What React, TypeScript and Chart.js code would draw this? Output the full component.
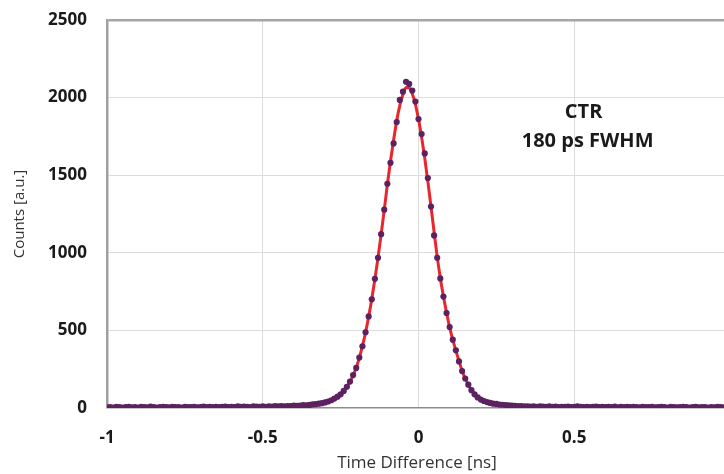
import { useEffect, useRef } from "react";
import { Chart, registerables } from "chart.js";

Chart.register(...registerables);

// Bin centres [ns]
const timeNs = [
  -1.0, -0.99, -0.98, -0.97, -0.96, -0.95, -0.94, -0.93, -0.92, -0.91,
  -0.9, -0.89, -0.88, -0.87, -0.86, -0.85, -0.84, -0.83, -0.82, -0.81,
  -0.8, -0.79, -0.78, -0.77, -0.76, -0.75, -0.74, -0.73, -0.72, -0.71,
  -0.7, -0.69, -0.68, -0.67, -0.66, -0.65, -0.64, -0.63, -0.62, -0.61,
  -0.6, -0.59, -0.58, -0.57, -0.56, -0.55, -0.54, -0.53, -0.52, -0.51,
  -0.5, -0.49, -0.48, -0.47, -0.46, -0.45, -0.44, -0.43, -0.42, -0.41,
  -0.4, -0.39, -0.38, -0.37, -0.36, -0.35, -0.34, -0.33, -0.32, -0.31,
  -0.3, -0.29, -0.28, -0.27, -0.26, -0.25, -0.24, -0.23, -0.22, -0.21,
  -0.2, -0.19, -0.18, -0.17, -0.16, -0.15, -0.14, -0.13, -0.12, -0.11,
  -0.1, -0.09, -0.08, -0.07, -0.06, -0.05, -0.04, -0.03, -0.02, -0.01,
  0.0, 0.01, 0.02, 0.03, 0.04, 0.05, 0.06, 0.07, 0.08, 0.09,
  0.1, 0.11, 0.12, 0.13, 0.14, 0.15, 0.16, 0.17, 0.18, 0.19,
  0.2, 0.21, 0.22, 0.23, 0.24, 0.25, 0.26, 0.27, 0.28, 0.29,
  0.3, 0.31, 0.32, 0.33, 0.34, 0.35, 0.36, 0.37, 0.38, 0.39,
  0.4, 0.41, 0.42, 0.43, 0.44, 0.45, 0.46, 0.47, 0.48, 0.49,
  0.5, 0.51, 0.52, 0.53, 0.54, 0.55, 0.56, 0.57, 0.58, 0.59,
  0.6, 0.61, 0.62, 0.63, 0.64, 0.65, 0.66, 0.67, 0.68, 0.69,
  0.7, 0.71, 0.72, 0.73, 0.74, 0.75, 0.76, 0.77, 0.78, 0.79,
  0.8, 0.81, 0.82, 0.83, 0.84, 0.85, 0.86, 0.87, 0.88, 0.89,
  0.9, 0.91, 0.92, 0.93, 0.94, 0.95, 0.96, 0.97, 0.98,
];

// Measured counts per bin
const counts = [
  4, 6, 3, 7, 5, 2, 6, 8, 4, 5,
  3, 7, 6, 4, 9, 5, 3, 6, 8, 5,
  4, 7, 5, 6, 3, 8, 6, 5, 7, 4,
  6, 9, 5, 7, 6, 8, 5, 7, 9, 6,
  8, 6, 10, 7, 9, 8, 6, 10, 9, 7,
  11, 8, 10, 9, 12, 10, 12, 11, 13, 12,
  15, 14, 16, 18, 17, 20, 23, 25, 28, 31,
  36, 42, 50, 61, 73, 88, 110, 137, 170, 212,
  258, 325, 398, 488, 590, 700, 832, 968, 1120, 1278,
  1445, 1580, 1705, 1842, 1985, 2038, 2102, 2088, 2045, 1975,
  1862, 1765, 1640, 1482, 1298, 1112, 968, 835, 718, 612,
  522, 440, 372, 300, 238, 190, 150, 115, 88, 68,
  54, 45, 38, 33, 28, 26, 22, 21, 18, 17,
  15, 14, 13, 12, 10, 11, 9, 10, 8, 11,
  9, 7, 10, 8, 9, 6, 8, 7, 9, 6,
  8, 10, 7, 5, 8, 6, 7, 9, 6, 8,
  5, 7, 6, 9, 4, 7, 6, 8, 5, 7,
  6, 4, 8, 6, 5, 7, 4, 6, 8, 5,
  3, 7, 6, 4, 5, 8, 6, 3, 5, 7,
  4, 6, 5, 3, 6, 4, 7, 5, 4,
];

// Fit curve, bins -0.45 .. 0.35 ns
const fitTimeNs = timeNs.slice(55, 136);
const fitCounts = [
  8, 9, 10, 11, 12, 13, 14, 15, 16, 18,
  20, 22, 25, 28, 32, 36, 42, 50, 60, 73,
  89, 110, 137, 170, 210, 260, 323, 400, 486, 589,
  702, 830, 969, 1118, 1275, 1440, 1590, 1725, 1850, 1950,
  2020, 2065, 2062, 2025, 1958, 1860, 1745, 1610, 1460, 1300,
  1135, 975, 838, 720, 615, 520, 440, 370, 302, 240,
  190, 150, 115, 88, 68, 54, 45, 38, 33, 29,
  25, 22, 20, 18, 16, 15, 14, 13, 12, 11,
  10,
];

const xTicks = [-1, -0.5, 0, 0.5];
const yTicks = [0, 500, 1000, 1500, 2000, 2500];
const noteLines = ["CTR", "180 ps FWHM"];
const xTitle = "Time Difference [ns]";
const yTitle = "Counts [a.u.]";

const FONT = "'Open Sans', 'Noto Sans', sans-serif";

export default function App() {
  const ref = useRef<HTMLCanvasElement | null>(null);

  useEffect(() => {
    const canvas = ref.current;
    if (!canvas) return;

    const notePlugin = {
      id: "note",
      afterDatasetsDraw(chart: any) {
        const { ctx, scales } = chart;
        const cx = scales.x.getPixelForValue(0.53);
        const cy = scales.y.getPixelForValue(1907);
        ctx.save();
        ctx.fillStyle = "#1a1a1a";
        ctx.font = `bold 20px ${FONT}`;
        ctx.textAlign = "center";
        ctx.textBaseline = "middle";
        noteLines.forEach((t, i) => {
          ctx.fillText(t, cx + (i === 0 ? 0 : 4), cy + i * 29);
        });
        ctx.restore();
      },
    };

    const chart = new Chart(canvas, {
      type: "scatter",
      data: {
        datasets: [
          {
            label: "Data",
            data: timeNs.map((x, i) => ({ x, y: counts[i] })),
            showLine: false,
            pointRadius: 3.1,
            pointHoverRadius: 3.1,
            pointBackgroundColor: "#5c2160",
            pointBorderColor: "#5c2160",
            pointBorderWidth: 0,
            order: 0,
          },
          {
            label: "Fit",
            data: fitTimeNs.map((x, i) => ({ x, y: fitCounts[i] })),
            showLine: true,
            borderColor: "#e8262b",
            borderWidth: 3,
            pointRadius: 0,
            cubicInterpolationMode: "monotone",
            order: 1,
          },
        ],
      },
      options: {
        responsive: false,
        animation: false,
        devicePixelRatio: 1,
        layout: { padding: { top: 20, right: 0, left: 0, bottom: 0 } },
        plugins: {
          legend: { display: false },
          tooltip: { enabled: false },
        },
        scales: {
          x: {
            type: "linear",
            min: -1,
            max: 0.99,
            afterBuildTicks: (s: any) => {
              s.ticks = xTicks.map((v) => ({ value: v }));
            },
            afterFit: (s: any) => {
              s.height = 66;
              s.paddingRight = 0;
            },
            grid: {
              drawTicks: false,
              color: (c: any) => (c.tick && c.tick.value === -1 ? "rgba(0,0,0,0)" : "#dcdcdc"),
              lineWidth: 1,
            },
            border: { display: false },
            ticks: {
              padding: 20,
              color: "#1a1a1a",
              font: { family: FONT, size: 17, weight: "bold" },
              callback: (v: any) => String(v),
            },
            title: {
              display: true,
              text: xTitle,
              color: "#333333",
              font: { family: FONT, size: 17 },
              padding: { top: 0, bottom: 1 },
            },
          },
          y: {
            type: "linear",
            min: 0,
            max: 2500,
            afterBuildTicks: (s: any) => {
              s.ticks = yTicks.map((v) => ({ value: v }));
            },
            afterFit: (s: any) => {
              s.width = 107;
              s.paddingTop = 0;
              s.paddingBottom = 0;
            },
            grid: {
              drawTicks: false,
              color: (c: any) => {
                const v = c.tick && c.tick.value;
                if (v === 2500) return "#a6a6a6";
                if (v === 0) return "#8c8c8c";
                return "#dcdcdc";
              },
              lineWidth: (c: any) => {
                const v = c.tick && c.tick.value;
                if (v === 2500) return 2.5;
                if (v === 0) return 1.5;
                return 1;
              },
            },
            border: { display: true, color: "#a0a0a0", width: 2.5 },
            ticks: {
              padding: 20,
              color: "#1a1a1a",
              font: { family: FONT, size: 17, weight: "bold" },
              callback: (v: any) => String(v),
            },
            title: {
              display: true,
              text: yTitle,
              color: "#333333",
              font: { family: FONT, size: 15 },
              padding: { top: 11, bottom: 0 },
            },
          },
        },
      },
      plugins: [notePlugin],
    } as any);

    return () => chart.destroy();
  }, []);

  return (
    <div
      style={{
        position: "fixed",
        left: 0,
        top: 0,
        width: 724,
        height: 474,
        overflow: "hidden",
        background: "#ffffff",
      }}
    >
      <canvas ref={ref} width={730} height={474} style={{ display: "block" }} />
    </div>
  );
}
